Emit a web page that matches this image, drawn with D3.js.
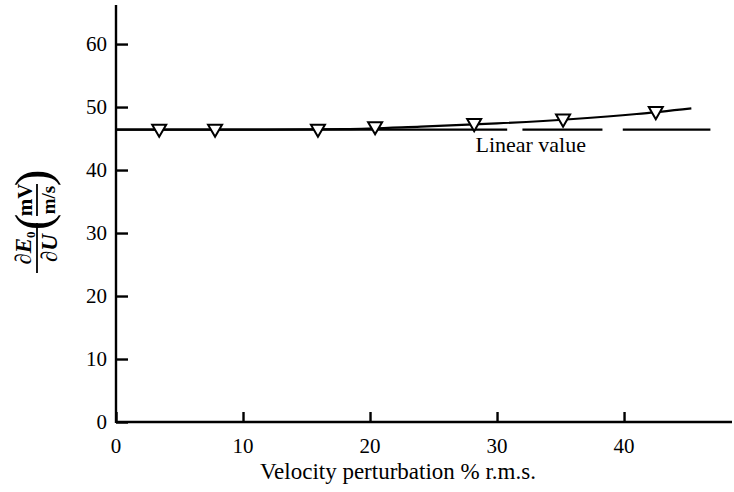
<!DOCTYPE html>
<html><head><meta charset="utf-8">
<script src="https://cdn.jsdelivr.net/npm/d3@7"></script>
<style>html,body{margin:0;padding:0;background:#fff}svg{display:block}svg text{font-family:"Liberation Serif","DejaVu Serif",serif}</style>
</head><body>
<script>
// Data
const xTicks = [0, 10, 20, 30, 40];
const yTicks = [0, 10, 20, 30, 40, 50, 60];
const pointX = [3.4, 7.8, 15.9, 20.4, 28.2, 35.2, 42.5];
const pointY = [46.4, 46.4, 46.4, 46.8, 47.3, 48.0, 49.2];
const curveX = [0, 10, 18, 24, 30, 36, 41, 45.3];
const curveY = [46.4, 46.4, 46.5, 46.9, 47.4, 48.1, 48.9, 49.8];
const linearValue = 46.4;
const linearSegments = [[0, 30.8], [32.0, 38.3], [39.9, 46.8]];
const linearLabel = "Linear value";
const xTitle = "Velocity perturbation % r.m.s.";

const W = 734, H = 492;
const svg = d3.select("body").append("svg").attr("width", W).attr("height", H);
const x = d3.scaleLinear().domain([0, 48.5]).range([116, 732]);
const y = d3.scaleLinear().domain([0, 66.2]).range([422, 5]);

// Axes
const xAxis = d3.axisTop(x).tickValues(xTicks).tickSize(10).tickFormat("");
const gx = svg.append("g").attr("transform", `translate(0,${y(0)})`).call(xAxis);
gx.select(".domain").remove();
gx.selectAll(".tick line").attr("stroke", "#000").attr("stroke-width", 2.4);
const yAxis = d3.axisRight(y).tickValues(yTicks).tickSize(12).tickFormat("");
const gy = svg.append("g").attr("transform", `translate(${x(0)},0)`).call(yAxis);
gy.select(".domain").remove();
gy.selectAll(".tick line").attr("stroke", "#000").attr("stroke-width", 2.4);

svg.append("line").attr("x1", x(0)).attr("x2", x(48.5)).attr("y1", y(0)).attr("y2", y(0))
  .attr("stroke", "#000").attr("stroke-width", 2.4);
svg.append("line").attr("x1", x(0)).attr("x2", x(0)).attr("y1", y(0) + 1).attr("y2", y(66.2))
  .attr("stroke", "#000").attr("stroke-width", 2.4);

// tick labels
svg.selectAll(".xl").data(xTicks).enter().append("text")
  .attr("x", d => x(d)).attr("y", 453).attr("text-anchor", "middle")
  .attr("font-size", 21).text(d => d);
svg.selectAll(".yl").data(yTicks).enter().append("text")
  .attr("x", 107).attr("y", d => y(d) + 7).attr("text-anchor", "end")
  .attr("font-size", 21).text(d => d);

// Linear value dashed segments
svg.selectAll(".lin").data(linearSegments).enter().append("line")
  .attr("x1", d => x(d[0])).attr("x2", d => x(d[1]))
  .attr("y1", y(linearValue)).attr("y2", y(linearValue))
  .attr("stroke", "#000").attr("stroke-width", 2.2);
svg.append("text").attr("x", x(28.3)).attr("y", 152)
  .attr("font-size", 22).text(linearLabel);

// Curve
const line = d3.line().x(d => x(d[0])).y(d => y(d[1])).curve(d3.curveMonotoneX);
svg.append("path").datum(d3.zip(curveX, curveY)).attr("d", line)
  .attr("fill", "none").attr("stroke", "#000").attr("stroke-width", 2.2);

// Markers (down triangles)
const tri = d3.symbol().type(d3.symbolTriangle).size(85);
svg.selectAll(".pt").data(d3.zip(pointX, pointY)).enter().append("path")
  .attr("d", tri)
  .attr("transform", d => `translate(${x(d[0])},${y(d[1]) - 1}) rotate(180)`)
  .attr("fill", "#fff").attr("stroke", "#000").attr("stroke-width", 2);

// X title
svg.append("text").attr("x", 398).attr("y", 479).attr("text-anchor", "middle")
  .attr("font-size", 23).text(xTitle);

// Y label (rotated)
const yl = svg.append("g").attr("transform", "translate(37,226) rotate(-90)");
const fx = -22;
const num = yl.append("text").attr("x", fx).attr("y", -6).attr("text-anchor", "middle")
  .attr("font-size", 23).attr("font-weight", "bold");
num.append("tspan").attr("font-weight", "normal").text("∂");
num.append("tspan").attr("font-style", "italic").text("E");
num.append("tspan").attr("font-size", 13).attr("dy", 4).text("0");
yl.append("line").attr("x1", fx - 25).attr("x2", fx + 25).attr("y1", 0).attr("y2", 0)
  .attr("stroke", "#000").attr("stroke-width", 1.8);
const den = yl.append("text").attr("x", fx).attr("y", 20).attr("text-anchor", "middle")
  .attr("font-size", 23);
den.append("tspan").text("∂");
den.append("tspan").attr("font-style", "italic").attr("font-weight", "bold").text("U");
const px = 26;
yl.append("text").attr("x", px - 22).attr("y", 13).attr("text-anchor", "middle")
  .attr("font-size", 50).text("(");
yl.append("text").attr("x", px + 22).attr("y", 13).attr("text-anchor", "middle")
  .attr("font-size", 50).text(")");
yl.append("text").attr("x", px).attr("y", -5).attr("text-anchor", "middle")
  .attr("font-size", 21).attr("font-weight", "bold").text("mV");
yl.append("line").attr("x1", px - 16).attr("x2", px + 16).attr("y1", 0).attr("y2", 0)
  .attr("stroke", "#000").attr("stroke-width", 1.8);
yl.append("text").attr("x", px).attr("y", 18).attr("text-anchor", "middle")
  .attr("font-size", 19).attr("font-weight", "bold").text("m/s");
</script>
</body></html>
